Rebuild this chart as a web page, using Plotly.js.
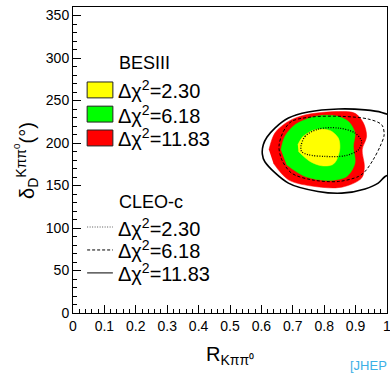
<!DOCTYPE html>
<html>
<head>
<meta charset="utf-8">
<script src="https://cdn.plot.ly/plotly-3.0.1.min.js"></script>
<style>html,body{margin:0;padding:0;background:#fff;}#chart{width:390px;height:374px;}</style>
</head>
<body>
<div id="chart"></div>
<script>
// BESIII filled contours (R, delta in degrees)
const besYellowR = [0.716,0.733,0.771,0.818,0.845,0.850,0.840,0.826,0.792,0.755,0.718];
const besYellowD = [198,207.8,215.6,214.8,205.8,194,180.3,174.4,173.2,178.3,190];
const besGreenR = [0.662,0.675,0.707,0.771,0.834,0.877,0.898,0.893,0.898,0.872,0.813,0.739,0.680];
const besGreenD = [192,207.8,221.5,231.3,232,225.4,211.8,196,176.4,160.6,155.9,160.6,174.4];
const besRedR = [0.624,0.643,0.686,0.739,0.845,0.898,0.925,0.935,0.921,0.928,0.919,0.856,0.771,0.686,0.638];
const besRedD = [192,211.8,225.4,233,237,235,223.5,207.8,192,172.4,158.7,148,148.8,156.7,176.4];
// CLEO-c contour lines
const cleoDotR = [0.726,0.739,0.781,0.845,0.898,0.919,0.909,0.866,0.803,0.749,0.728,0.726];
const cleoDotD = [196,207.8,216.4,217.6,211.8,201.9,192,185,184.2,186.2,190,196];
const cleoDashR = [0.656,0.670,0.696,0.760,0.856,0.940,0.983,0.991,0.978,0.956,0.930,0.909,0.845,0.760,0.696,0.665,0.656];
const cleoDashD = [196,213.6,225.4,230.6,231.3,228.2,221.5,209.8,196,180.3,166.5,160.6,154.7,156.7,164.6,180.3,196];
const cleoSolidR = [0.603,0.606,0.618,0.643,0.686,0.749,0.845,0.930,0.983,1.03,1.06,1.06,1.03,0.994,0.972,0.93,0.856,0.78,0.686,0.611,0.603];
const cleoSolidD = [187,198,207,217.6,229.4,236.5,240,239,236,228,210,185,166,160.6,152.8,146,141,143,152.8,178,187];

// axis ticks
const xTickVals = [0,0.1,0.2,0.3,0.4,0.5,0.6,0.7,0.8,0.9,1];
const xTickText = ['0','0.1','0.2','0.3','0.4','0.5','0.6','0.7','0.8','0.9','1'];
const yTickVals = [0,50,100,150,200,250,300,350];

const legendLabels = ['Δχ<sup>2</sup>=2.30','Δχ<sup>2</sup>=6.18','Δχ<sup>2</sup>=11.83'];
const besColors = ['#ffff00','#00ff00','#ff0000'];
const cleoDash = ['1px,1.5px','3px,2px','solid'];

const fillTrace = (x,y,c) => ({x:x,y:y,type:'scatter',mode:'lines',fill:'toself',fillcolor:c,
  line:{color:c,width:0.5,shape:'spline',smoothing:0.9},hoverinfo:'skip',showlegend:false});
const lineTrace = (x,y,d,w) => ({x:x,y:y,type:'scatter',mode:'lines',
  line:{color:'black',width:w,dash:d,shape:'spline',smoothing:0.9},hoverinfo:'skip',showlegend:false});

const data = [
  fillTrace(besRedR,besRedD,besColors[2]),
  fillTrace(besGreenR,besGreenD,besColors[1]),
  fillTrace(besYellowR,besYellowD,besColors[0]),
  lineTrace(cleoDotR,cleoDotD,cleoDash[0],1.3),
  lineTrace(cleoDashR,cleoDashD,cleoDash[1],1),
  lineTrace(cleoSolidR,cleoSolidD,cleoDash[2],1.6)
];

const FONT = 'Liberation Sans, Arial, sans-serif';
const shapes = [];
const annotations = [];
const besRowsY = [0.729,0.650,0.572];
const cleoRowsY = [0.281,0.206,0.131];
annotations.push({xref:'paper',yref:'paper',x:0.140,y:0.817,xanchor:'left',yanchor:'middle',text:'BESIII',showarrow:false,font:{family:FONT,size:18,color:'black'}});
annotations.push({xref:'paper',yref:'paper',x:0.140,y:0.363,xanchor:'left',yanchor:'middle',text:'CLEO-c',showarrow:false,font:{family:FONT,size:18,color:'black'}});
for (let i=0;i<3;i++){
  shapes.push({type:'rect',xref:'paper',yref:'paper',x0:0.045,x1:0.127,y0:besRowsY[i]-0.026,y1:besRowsY[i]+0.026,
    fillcolor:besColors[i],line:{color:'#222',width:1}});
  annotations.push({xref:'paper',yref:'paper',x:0.138,y:besRowsY[i],xanchor:'left',yanchor:'middle',text:legendLabels[i],showarrow:false,font:{family:FONT,size:20,color:'black'}});
  shapes.push({type:'line',xref:'paper',yref:'paper',x0:0.045,x1:0.127,y0:cleoRowsY[i],y1:cleoRowsY[i],
    line:{color:i===0?'#555':'black',width:1,dash:cleoDash[i]}});
  annotations.push({xref:'paper',yref:'paper',x:0.138,y:cleoRowsY[i],xanchor:'left',yanchor:'middle',text:legendLabels[i],showarrow:false,font:{family:FONT,size:20,color:'black'}});
}
// axis titles
annotations.push({xref:'paper',yref:'paper',x:-0.15,y:0.5,xanchor:'center',yanchor:'middle',textangle:-90,
  text:'δ<sub>D</sub><sup>Kππ<sup>0</sup></sup>(°)',showarrow:false,font:{family:FONT,size:20,color:'black'}});
annotations.push({xref:'paper',yref:'paper',x:0.5,y:-0.14,xanchor:'center',yanchor:'middle',
  text:'R<sub>Kππ⁰</sub>',showarrow:false,font:{family:FONT,size:20,color:'black'}});
annotations.push({xref:'paper',yref:'paper',x:0.876,y:-0.17,xanchor:'left',yanchor:'middle',
  text:'[JHEP 05 (2021) 164]',showarrow:false,font:{family:FONT,size:13,color:'#3cb0e6'}});

const axisCommon = {showgrid:false,zeroline:false,showline:true,mirror:true,linecolor:'black',linewidth:1,
  ticks:'inside',ticklen:8,tickcolor:'black',tickwidth:1,tickfont:{family:FONT,size:14,color:'black'},
  ticklabeloverflow:'allow'};

const layout = {
  width:390,height:374,margin:{l:73,r:3,t:7,b:61},
  paper_bgcolor:'white',plot_bgcolor:'white',showlegend:false,
  xaxis:Object.assign({},axisCommon,{range:[0,1],tickmode:'array',tickvals:xTickVals,ticktext:xTickText,
    minor:{dtick:0.02,tick0:0,ticks:'inside',ticklen:4,tickcolor:'black'}}),
  yaxis:Object.assign({},axisCommon,{range:[0,360],tickmode:'array',tickvals:yTickVals,
    minor:{dtick:10,tick0:0,ticks:'inside',ticklen:4,tickcolor:'black'}}),
  shapes:shapes,annotations:annotations
};
Plotly.newPlot('chart',data,layout,{staticPlot:true});
</script>
</body>
</html>
